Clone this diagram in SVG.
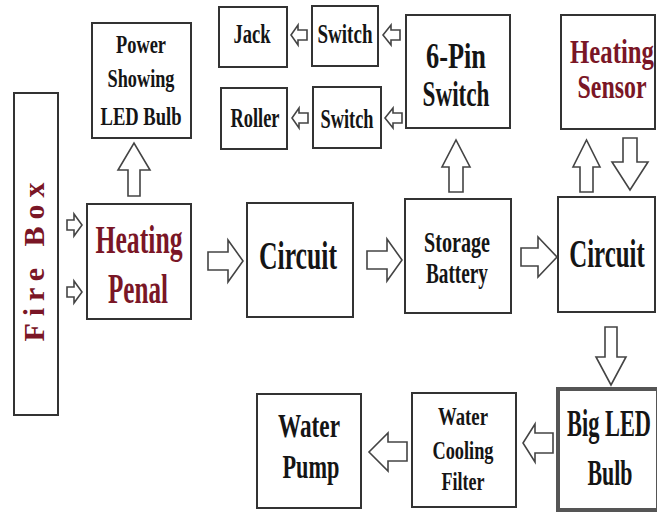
<svg xmlns="http://www.w3.org/2000/svg" width="657" height="513" viewBox="0 0 657 513">
<style>
.box{fill:#fff;stroke:#333;stroke-width:2}
.arr{fill:#fff;stroke:#444;stroke-width:1.6;stroke-linejoin:miter}
text{font-family:"Liberation Serif","Times New Roman",serif;font-weight:bold;text-anchor:middle;fill:#151515}
.red{fill:#7a1626}
</style>
<rect width="657" height="513" fill="#fff"/>
<g id="firebox">
<rect class="box" x="14" y="93" width="44" height="322"/>
<text class="red" transform="translate(44,262) rotate(-90)" font-size="30" textLength="159">Fire Box</text>
</g>
<g id="heating-penal">
<rect class="box" x="87" y="204" width="104" height="115"/>
<text class="red" x="139" y="253" font-size="40" textLength="87" lengthAdjust="spacingAndGlyphs">Heating</text>
<text class="red" x="138" y="303" font-size="42" textLength="60" lengthAdjust="spacingAndGlyphs">Penal</text>
</g>
<g id="power-led">
<rect class="box" x="92" y="23" width="99" height="115"/>
<text x="141" y="53" font-size="26" textLength="50" lengthAdjust="spacingAndGlyphs">Power</text>
<text x="141" y="87" font-size="26" textLength="67" lengthAdjust="spacingAndGlyphs">Showing</text>
<text x="141" y="125" font-size="26" textLength="81" lengthAdjust="spacingAndGlyphs">LED Bulb</text>
</g>
<g id="jack">
<rect class="box" x="219" y="7" width="68" height="60"/>
<text x="252" y="43" font-size="28" textLength="37" lengthAdjust="spacingAndGlyphs">Jack</text>
</g>
<g id="switch-top">
<rect class="box" x="312" y="6" width="66" height="60"/>
<text x="345" y="43" font-size="28" textLength="55" lengthAdjust="spacingAndGlyphs">Switch</text>
</g>
<g id="roller">
<rect class="box" x="221" y="88" width="66" height="61"/>
<text x="255" y="127" font-size="28" textLength="49" lengthAdjust="spacingAndGlyphs">Roller</text>
</g>
<g id="switch-bottom">
<rect class="box" x="313" y="87" width="68" height="61"/>
<text x="347" y="128" font-size="28" textLength="53" lengthAdjust="spacingAndGlyphs">Switch</text>
</g>
<g id="six-pin">
<rect class="box" x="406" y="15" width="104" height="113"/>
<text x="456" y="68" font-size="36" textLength="60" lengthAdjust="spacingAndGlyphs">6-Pin</text>
<text x="456" y="106" font-size="36" textLength="67" lengthAdjust="spacingAndGlyphs">Switch</text>
</g>
<g id="heating-sensor">
<rect class="box" x="561" y="15" width="94" height="114"/>
<text class="red" transform="translate(612,63) scale(0.75,1)" font-size="33">Heating</text>
<text class="red" transform="translate(612,98) scale(0.724,1)" font-size="33">Sensor</text>
</g>
<g id="circuit-1">
<rect class="box" x="247" y="203" width="106" height="114"/>
<text x="298" y="269" font-size="40" textLength="78" lengthAdjust="spacingAndGlyphs">Circuit</text>
</g>
<g id="storage-battery">
<rect class="box" x="405" y="199" width="106" height="114"/>
<text x="457" y="252" font-size="30" textLength="66" lengthAdjust="spacingAndGlyphs">Storage</text>
<text x="457" y="283" font-size="30" textLength="62" lengthAdjust="spacingAndGlyphs">Battery</text>
</g>
<g id="circuit-2">
<rect class="box" x="558" y="197" width="97" height="115"/>
<text transform="translate(607,267) scale(0.622,1)" font-size="40">Circuit</text>
</g>
<g id="big-led">
<rect x="558" y="389" width="100" height="121" fill="#fff" stroke="#555" stroke-width="4"/>
<text transform="translate(609,436) scale(0.589,1)" font-size="38">Big LED</text>
<text transform="translate(610,485) scale(0.608,1)" font-size="36">Bulb</text>
</g>
<g id="water-cooling-filter">
<rect class="box" x="412" y="393" width="104" height="114"/>
<text x="463" y="425" font-size="26" textLength="50" lengthAdjust="spacingAndGlyphs">Water</text>
<text x="463" y="459" font-size="26" textLength="61" lengthAdjust="spacingAndGlyphs">Cooling</text>
<text x="463" y="490" font-size="26" textLength="43" lengthAdjust="spacingAndGlyphs">Filter</text>
</g>
<g id="water-pump">
<rect class="box" x="257" y="394" width="104" height="114"/>
<text x="309" y="437" font-size="34" textLength="62" lengthAdjust="spacingAndGlyphs">Water</text>
<text x="311" y="478" font-size="34" textLength="57" lengthAdjust="spacingAndGlyphs">Pump</text>
</g>
<g id="connectors">
<path class="arr" d="M67,220 L74,220 L74,214 L82,225 L74,236 L74,230 L67,230 Z"/>
<path class="arr" d="M67,287 L74,287 L74,281 L82,292 L74,303 L74,297 L67,297 Z"/>
<path class="arr" d="M128,196 L128,170 L118,170 L134,143 L150,170 L140,170 L140,196 Z"/>
<path class="arr" d="M307,30 L298,30 L298,25 L291,35 L298,45 L298,40 L307,40 Z"/>
<path class="arr" d="M400,30 L391,30 L391,25 L383,35 L391,45 L391,40 L400,40 Z"/>
<path class="arr" d="M308,113 L299,113 L299,108 L292,118 L299,128 L299,123 L308,123 Z"/>
<path class="arr" d="M402,113 L393,113 L393,108 L385,118 L393,128 L393,123 L402,123 Z"/>
<path class="arr" d="M449,192 L449,167 L442,167 L456,140 L470,167 L463,167 L463,192 Z"/>
<path class="arr" d="M580,192 L580,167 L573,167 L586.5,140 L600,167 L593,167 L593,192 Z"/>
<path class="arr" d="M623,138 L637,138 L637,162 L648,162 L630,190 L612,162 L623,162 Z"/>
<path class="arr" d="M208,252 L228,252 L228,240 L243,261 L228,282 L228,270 L208,270 Z"/>
<path class="arr" d="M367,251 L387,251 L387,239 L402,260 L387,281 L387,269 L367,269 Z"/>
<path class="arr" d="M521,248 L538,248 L538,237 L557,257 L538,277 L538,266 L521,266 Z"/>
<path class="arr" d="M605,327 L617,327 L617,357 L626,357 L611,385 L596,357 L605,357 Z"/>
<path class="arr" d="M553,433 L535,433 L535,424 L523,443 L535,462 L535,453 L553,453 Z"/>
<path class="arr" d="M407,442 L388,442 L388,433 L369,452 L388,471 L388,461 L407,461 Z"/>
</g>
</svg>
